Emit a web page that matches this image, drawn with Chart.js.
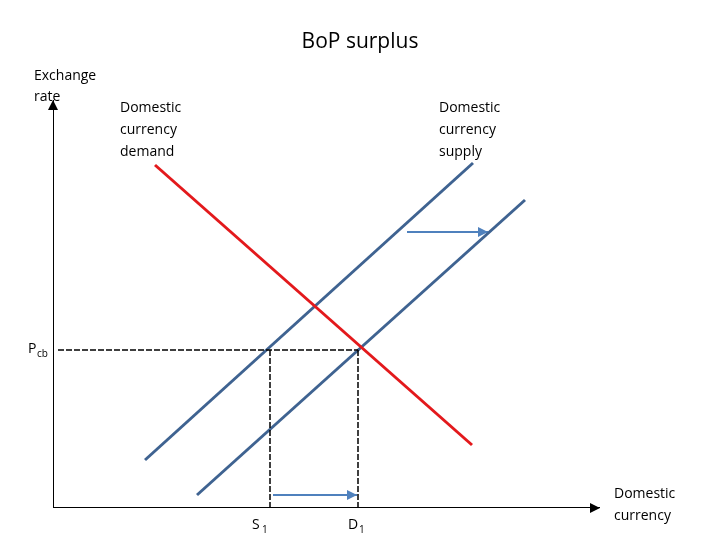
<!DOCTYPE html>
<html><head><meta charset="utf-8">
<script src="https://cdn.jsdelivr.net/npm/chart.js@4"></script>
<style>html,body{margin:0;background:#fff}#c{display:block}</style>
</head><body>
<div style="width:720px;height:540px"><canvas id="c"></canvas></div>
<script>
const demandX=[102,419], demandY=[343,63];
const supply1X=[92,420], supply1Y=[48,345];
const supply2X=[144,472], supply2Y=[13,308];
const pcbX=[5,305], pcbY=[158,158];
const s1X=[217,217], s1Y=[158,0];
const d1X=[305,305], d1Y=[158,0];
const shiftTopX=[354,435], shiftTopY=[276,276];
const shiftBotX=[220,304], shiftBotY=[13,13];
const yAxisX=[0,0], yAxisY=[0,408];
const xAxisX=[0,547], xAxisY=[0,0];
const pts=(xs,ys)=>xs.map((x,i)=>({x,y:ys[i]}));
const F='"Open Sans", "Liberation Sans", sans-serif';
const ds=(xs,ys,color,w,dash)=>({data:pts(xs,ys),borderColor:color,borderWidth:w,borderDash:dash||[],pointRadius:0,showLine:true,fill:false});
const arrowPlugin={id:'arr',afterDatasetsDraw(ch){
  const c=ch.ctx,xs=ch.scales.x,ys=ch.scales.y;
  const head=(xv0,yv0,xv1,yv1,col,sz)=>{
    const x0=xs.getPixelForValue(xv0),y0=ys.getPixelForValue(yv0),x1=xs.getPixelForValue(xv1),y1=ys.getPixelForValue(yv1);
    const a=Math.atan2(y1-y0,x1-x0);
    c.save();c.fillStyle=col;c.beginPath();c.moveTo(x1,y1);
    c.lineTo(x1-sz*Math.cos(a)+sz*0.5*Math.sin(a),y1-sz*Math.sin(a)-sz*0.5*Math.cos(a));
    c.lineTo(x1-sz*Math.cos(a)-sz*0.5*Math.sin(a),y1-sz*Math.sin(a)+sz*0.5*Math.cos(a));
    c.closePath();c.fill();c.restore();};
  head(yAxisX[0],yAxisY[0],yAxisX[1],yAxisY[1],'#000',10);
  head(xAxisX[0],xAxisY[0],xAxisX[1],xAxisY[1],'#000',10);
  head(shiftTopX[0],shiftTopY[0],shiftTopX[1],shiftTopY[1],'#4f81bd',10);
  head(shiftBotX[0],shiftBotY[0],shiftBotX[1],shiftBotY[1],'#4f81bd',10);
  c.save();c.fillStyle='#000';c.textBaseline='middle';
  c.font='21px '+F;c.textAlign='center';c.fillText('BoP surplus',360,42);
  c.font='14px '+F;c.textAlign='left';
  c.fillText('Exchange',34,76);c.fillText('rate',34,97);
  ['Domestic','currency','demand'].forEach((t,i)=>c.fillText(t,120,108+i*22));
  ['Domestic','currency','supply'].forEach((t,i)=>c.fillText(t,439,108+i*22));
  c.fillText('Domestic',614,494);c.fillText('currency',614,516);
  c.fillText('P',28,349);c.font='10px '+F;c.fillText('cb',37,354);
  c.font='14px '+F;c.fillText('S',252,525);c.fillText('D',348,525);
  c.font='10px '+F;c.fillText('1',262,530);c.fillText('1',359,530);
  c.restore();}};
new Chart(document.getElementById('c'),{type:'scatter',
 data:{datasets:[
  ds(yAxisX,yAxisY,'#000',2),ds(xAxisX,xAxisY,'#000',2),
  ds(pcbX,pcbY,'#000',1.5,[6,2]),ds(s1X,s1Y,'#000',1.5,[6,2]),ds(d1X,d1Y,'#000',1.5,[6,2]),
  ds(demandX,demandY,'#e3191c',3),
  ds(supply1X,supply1Y,'#3f6391',3),ds(supply2X,supply2Y,'#3f6391',3),
  ds(shiftTopX,shiftTopY,'#4f81bd',2),ds(shiftBotX,shiftBotY,'#4f81bd',2)]},
 options:{responsive:true,maintainAspectRatio:false,animation:false,
  layout:{padding:{left:53,right:120,top:88,bottom:32}},
  plugins:{legend:{display:false},tooltip:{enabled:false}},
  scales:{x:{type:'linear',min:0,max:547,display:false},y:{type:'linear',min:0,max:420,display:false}}},
 plugins:[arrowPlugin]});
</script></body></html>
